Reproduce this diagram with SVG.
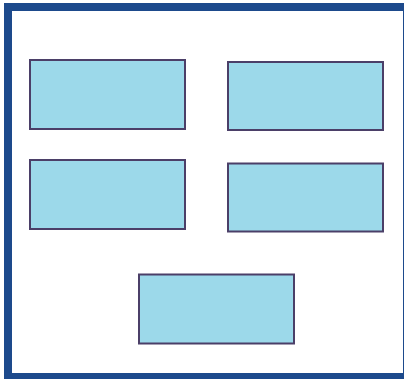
<svg xmlns="http://www.w3.org/2000/svg" width="404" height="379" viewBox="0 0 404 379">
<style>
.frame{fill:#ffffff;stroke:#1d4a8c;stroke-width:8}
.box{fill:#9cd9ea;stroke:#4b3f68;stroke-width:2}
</style>
<rect width="404" height="379" fill="#ffffff"/>
<g id="frame"><rect class="frame" x="8" y="7" width="399" height="370"/></g>
<g id="node1"><rect class="box" x="30" y="60" width="155" height="69"/></g>
<g id="node2"><rect class="box" x="228" y="62" width="155" height="68"/></g>
<g id="node3"><rect class="box" x="30" y="160" width="155" height="69"/></g>
<g id="node4"><rect class="box" x="228" y="163.5" width="155" height="68"/></g>
<g id="node5"><rect class="box" x="139" y="274.5" width="155" height="69"/></g>
<g id="connectors"></g>
</svg>
